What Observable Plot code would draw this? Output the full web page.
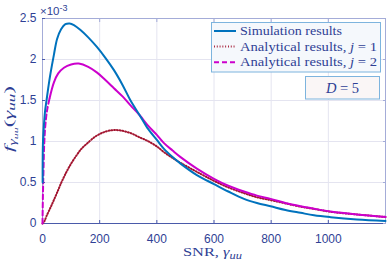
<!DOCTYPE html>
<html><head><meta charset="utf-8">
<script src="https://cdn.jsdelivr.net/npm/d3@7"></script>
<script src="https://cdn.jsdelivr.net/npm/@observablehq/plot@0.6"></script>
<style>body{margin:0;background:#fff} #chart{width:388px;height:263px}</style>
</head><body><div id="chart"></div>
<script>
// SNR (x) and pdf values (in units of 1e-3)
const snrSim = [0.5, 1.5, 5, 9, 14, 20, 28, 40, 51, 65, 80, 95, 110, 133, 160, 191, 220, 250, 280, 308, 340, 366, 400, 425, 455, 483, 540, 600, 650, 705, 750, 798, 850, 903, 950, 1008, 1100, 1200];
const pdfSim = [0.5, 0.97, 1.2, 1.37, 1.5, 1.65, 1.83, 2.06, 2.25, 2.37, 2.43, 2.44, 2.42, 2.36, 2.27, 2.15, 2.02, 1.87, 1.69, 1.5, 1.32, 1.17, 1.02, 0.91, 0.81, 0.73, 0.59, 0.48, 0.39, 0.30, 0.25, 0.21, 0.165, 0.13, 0.10, 0.077, 0.05, 0.032];

const snrJ1 = [0, 7, 14, 30, 49, 66, 84, 100, 119, 136, 154, 189, 220, 250, 280, 310, 340, 366, 400, 425, 455, 483, 540, 600, 650, 705, 750, 798, 850, 903, 950, 1008, 1100, 1200];
const pdfJ1 = [0, 0.03, 0.09, 0.21, 0.36, 0.50, 0.63, 0.73, 0.83, 0.91, 0.97, 1.07, 1.12, 1.14, 1.13, 1.10, 1.05, 1.01, 0.94, 0.87, 0.80, 0.74, 0.63, 0.52, 0.44, 0.37, 0.32, 0.285, 0.245, 0.205, 0.178, 0.143, 0.11, 0.08];

const snrJ2 = [0, 1.5, 3.5, 6, 10, 16, 25, 40, 55, 75, 100, 127, 160, 191, 220, 250, 280, 308, 340, 370, 400, 425, 455, 483, 540, 600, 650, 705, 750, 798, 850, 903, 950, 1008, 1100, 1200];
const pdfJ2 = [0, 0.35, 0.65, 0.97, 1.2, 1.38, 1.53, 1.72, 1.83, 1.9, 1.94, 1.95, 1.91, 1.84, 1.75, 1.65, 1.55, 1.44, 1.32, 1.19, 1.08, 0.98, 0.89, 0.81, 0.67, 0.545, 0.46, 0.39, 0.34, 0.30, 0.25, 0.21, 0.18, 0.146, 0.11, 0.08];

const xTicks = [0, 200, 400, 600, 800, 1000];
const yTicks = [0, 0.5, 1, 1.5, 2, 2.5];
const seriesNames = ["Simulation results", "Analytical results, ", "Analytical results, "];
const seriesJ = [null, "1", "2"];
const seriesColors = ["#0072BD", "#A2142F", "#CC00CC"];
const dParam = "5";

const sim = snrSim.map((x, i) => ({x, y: pdfSim[i]}));
const j1 = snrJ1.map((x, i) => ({x, y: pdfJ1[i]}));
const j2 = snrJ2.map((x, i) => ({x, y: pdfJ2[i]}));

const textColor = "#2F3F95";
const gridColor = "#E4E4F0";
const frameColor = "#A4ACD8";
const axisColor = "#4A5AAA";
const dotted = "0.9,1.9";
const dashed = "5,3";

const plot = Plot.plot({
  width: 388, height: 263,
  marginLeft: 42, marginRight: 3, marginTop: 18, marginBottom: 40,
  style: {background: "transparent", fontFamily: "'Liberation Sans', Arial, sans-serif", fontSize: "12px", color: textColor},
  x: {domain: [0, 1200]},
  y: {domain: [0, 2.5]},
  marks: [
    Plot.gridX(xTicks, {stroke: gridColor, strokeOpacity: 1}),
    Plot.gridY(yTicks, {stroke: gridColor, strokeOpacity: 1}),
    Plot.frame({stroke: frameColor}),
    Plot.ruleY([0], {stroke: axisColor}),
    Plot.axisX(xTicks, {tickSize: -3, tickPadding: 13.5, stroke: axisColor, label: null, fill: textColor, tickFormat: d => String(d)}),
    Plot.axisY(yTicks, {tickSize: -3, tickPadding: 9, stroke: axisColor, label: null, fill: textColor, tickFormat: d => String(d)}),
    Plot.axisX(xTicks, {anchor: "top", tickSize: -3, stroke: frameColor, label: null, tickFormat: () => ""}),
    Plot.axisY(yTicks, {anchor: "right", tickSize: -3, stroke: frameColor, label: null, tickFormat: () => ""}),
    Plot.line(j1, {x: "x", y: "y", stroke: seriesColors[1], strokeWidth: 2, strokeDasharray: dotted, curve: "catmull-rom"}),
    Plot.line(j2.filter(d => d.x <= 25), {x: "x", y: "y", stroke: seriesColors[2], strokeWidth: 2, strokeDasharray: dashed, curve: "catmull-rom"}),
    Plot.line(j2.filter(d => d.x >= 25), {x: "x", y: "y", stroke: seriesColors[2], strokeWidth: 2, curve: "catmull-rom"}),
    Plot.line(sim, {x: "x", y: "y", stroke: seriesColors[0], strokeWidth: 2, curve: "catmull-rom"})
  ]
});
document.getElementById("chart").appendChild(plot);

const svg = d3.select(plot);
const serif = "'Liberation Serif', 'Times New Roman', serif";

// x10^-3 multiplier
const mult = svg.append("text").attr("x", 40).attr("y", 15).attr("fill", textColor).attr("text-anchor", "start")
  .attr("font-family", "'Liberation Sans', Arial, sans-serif").attr("font-size", 11.5);
mult.append("tspan").text("×10");
mult.append("tspan").attr("font-size", 9).attr("dy", -4).text("-3");

// x label
const xl = svg.append("text").attr("x", 183).attr("y", 256).attr("text-anchor", "start")
  .attr("fill", textColor).attr("font-family", serif).attr("font-size", 12.5)
  .attr("textLength", 59).attr("lengthAdjust", "spacingAndGlyphs");
xl.append("tspan").text("SNR, ");
xl.append("tspan").attr("font-style", "italic").text("γ");
xl.append("tspan").attr("font-style", "italic").attr("font-size", 9.5).attr("dy", 2.5).text("uu");

// y label
const yl = svg.append("text").attr("transform", "translate(13,152) rotate(-90)").attr("text-anchor", "start")
  .attr("fill", textColor).attr("font-family", serif).attr("font-size", 13.5)
  .attr("textLength", 66).attr("lengthAdjust", "spacingAndGlyphs");
yl.append("tspan").attr("font-style", "italic").text("f");
yl.append("tspan").attr("font-style", "italic").attr("font-size", 9.5).attr("dy", 3).text("γ");
yl.append("tspan").attr("font-style", "italic").attr("font-size", 7).attr("dy", 1.5).text("uu");
yl.append("tspan").attr("dy", -4.5).text("(");
yl.append("tspan").attr("font-style", "italic").text("γ");
yl.append("tspan").attr("font-style", "italic").attr("font-size", 10).attr("dy", 2).text("uu");
yl.append("tspan").attr("dy", -2).text(")");

// legend
const lg = svg.append("g").attr("text-anchor", "start");
lg.append("rect").attr("x", 211.5).attr("y", 22.5).attr("width", 169).attr("height", 49.5)
  .attr("fill", "#F5F8FC").attr("stroke", "#7DB4DE").attr("stroke-width", 1);
const dashes = [null, dotted, dashed];
const textLens = [102, 137, 137];
seriesNames.forEach((name, i) => {
  const y = 31 + i * 15.6;
  const ln = lg.append("line").attr("x1", 214).attr("x2", 236).attr("y1", y).attr("y2", y)
    .attr("stroke", seriesColors[i]).attr("stroke-width", 2);
  if (dashes[i]) ln.attr("stroke-dasharray", dashes[i]);
  const t = lg.append("text").attr("x", 240).attr("y", y + 4).attr("fill", textColor)
    .attr("font-family", serif).attr("font-size", 12.5)
    .attr("textLength", textLens[i]).attr("lengthAdjust", "spacingAndGlyphs");
  t.append("tspan").text(name);
  if (seriesJ[i]) {
    t.append("tspan").attr("font-style", "italic").text("j");
    t.append("tspan").text(" = " + seriesJ[i]);
  }
});

// D = 5 box
const db = svg.append("g");
db.append("rect").attr("x", 305.5).attr("y", 76.5).attr("width", 74).attr("height", 22.5)
  .attr("fill", "#FAF6F6").attr("stroke", "#7DB4DE").attr("stroke-width", 1);
const dt = db.append("text").attr("x", 342.5).attr("y", 93).attr("text-anchor", "middle")
  .attr("fill", textColor).attr("font-family", serif).attr("font-size", 14.5);
dt.append("tspan").attr("font-style", "italic").text("D");
dt.append("tspan").text(" = " + dParam);
</script>
</body></html>
